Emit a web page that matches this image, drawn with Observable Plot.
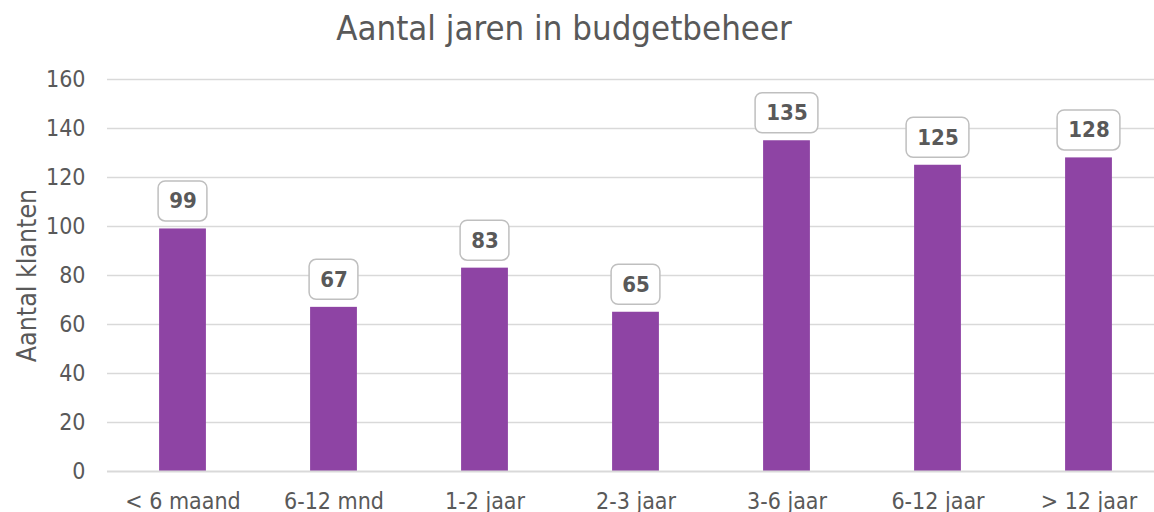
<!DOCTYPE html>
<html>
<head>
<meta charset="utf-8">
<script src="https://cdn.jsdelivr.net/npm/d3@7"></script>
<script src="https://cdn.jsdelivr.net/npm/@observablehq/plot@0.6"></script>
<style>
  html, body { margin: 0; padding: 0; background: #fff; overflow: hidden; width: 1154px; height: 512px; }
  #title { width: 1128px; height: 56px; line-height: 56px; text-align: center; font-family: "DejaVu Sans Condensed", "DejaVu Sans", sans-serif; font-stretch: condensed; font-size: 34.5px; color: #595959; white-space: nowrap; }
  #chart { width: 1170px; }
  #chart svg { display: block; overflow: visible; max-width: none !important; width: 1170px !important; height: 456px !important; }
</style>
</head>
<body>
<div id="title">Aantal jaren in budgetbeheer</div>
<div id="chart"></div>
<script>
const categories = ["< 6 maand", "6-12 mnd", "1-2 jaar", "2-3 jaar", "3-6 jaar", "6-12 jaar", "> 12 jaar"];
const values = [99, 67, 83, 65, 135, 125, 128];
const yTicks = [0, 20, 40, 60, 80, 100, 120, 140, 160];
const yLabel = "Aantal klanten";

const data = categories.map((c, i) => ({cat: c, value: values[i], label: String(values[i])}));
const two = data.filter(d => d.label.length <= 2);
const three = data.filter(d => d.label.length > 2);

const textColor = "#595959";
const boxStyle = {x: "cat", y1: "value", y2: "value", fill: "white", stroke: "#bfbfbf", strokeWidth: 1.5, rx: 7, insetTop: -47.5, insetBottom: 7.5};

const chart = Plot.plot({
  width: 1170,
  height: 456,
  marginLeft: 107,
  marginRight: 6,
  marginTop: 23,
  marginBottom: 41,
  style: {fontFamily: "'DejaVu Sans Condensed', 'DejaVu Sans', sans-serif", fontSize: "23px", color: textColor, background: "white", fontStretch: "condensed"},
  x: {domain: categories, paddingInner: 0.69, paddingOuter: 0.345, round: false},
  y: {domain: [0, 160]},
  marks: [
    Plot.ruleY(yTicks.filter(t => t > 0), {stroke: "#d9d9d9", strokeWidth: 1.5}),
    Plot.barY(data, {x: "cat", y: "value", fill: "#8e44a4"}),
    Plot.ruleY([0], {stroke: "#d9d9d9", strokeWidth: 2}),
    Plot.barY(two, {...boxStyle, insetLeft: -1, insetRight: -1}),
    Plot.barY(three, {...boxStyle, insetLeft: -8, insetRight: -8}),
    Plot.text(data, {x: "cat", y: "value", text: "label", dy: -27.5, fontWeight: "bold", fontSize: 22, fill: textColor}),
    Plot.axisY({ticks: yTicks, tickSize: 0, tickPadding: 22, label: null, fontSize: 23}),
    Plot.axisX({tickSize: 0, tickPadding: 21, label: null, fontSize: 23}),
    Plot.text([yLabel], {frameAnchor: "left", rotate: -90, dx: -80, textAnchor: "middle", lineAnchor: "middle", fontSize: 26.5, fill: textColor})
  ]
});
document.getElementById("chart").appendChild(chart);
</script>
</body>
</html>
